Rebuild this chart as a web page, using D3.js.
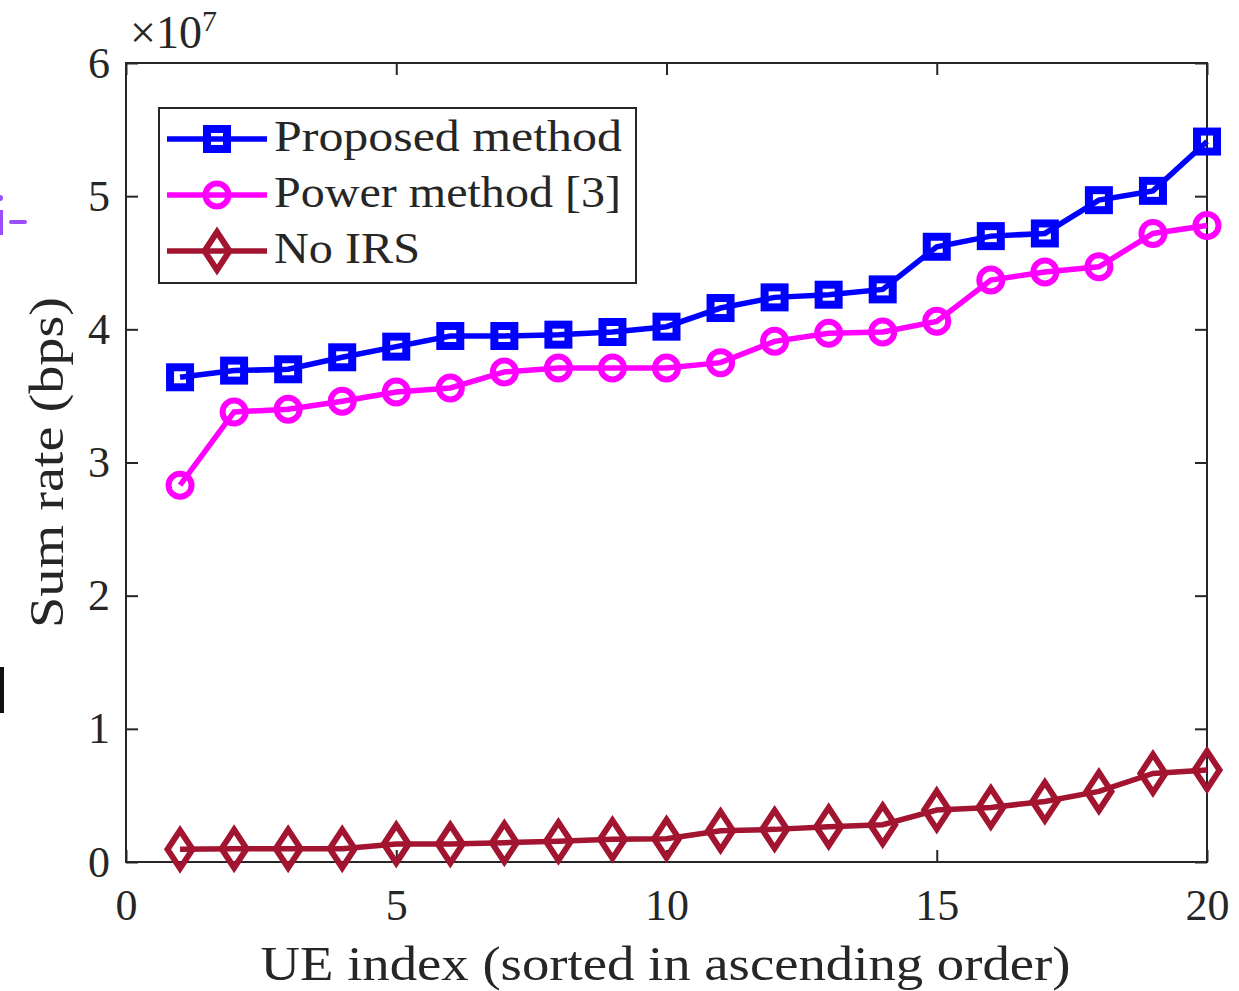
<!DOCTYPE html>
<html>
<head>
<meta charset="utf-8">
<script src="https://cdnjs.cloudflare.com/ajax/libs/d3/7.8.5/d3.min.js"></script>
<style>
    body { margin: 0; background: #fff; }
    svg { display: block; font-family: "Liberation Serif", serif; }
    .axis line { stroke: #262626; stroke-width: 2; }
    .axis text { fill: #262626; font-size: 44px; font-family: "Liberation Serif", serif; }
    .label { fill: #262626; font-family: "Liberation Serif", serif; }
</style>
</head>
<body>
<div id="chart"></div>
<script>

// data (rates in bps)
const ueIndex = [1, 2, 3, 4, 5, 6, 7, 8, 9, 10, 11, 12, 13, 14, 15, 16, 17, 18, 19, 20];
const proposedRate = [3.64e7, 3.69e7, 3.70e7, 3.79e7, 3.87e7, 3.95e7, 3.95e7, 3.96e7, 3.98e7, 4.02e7,
    4.16e7, 4.24e7, 4.26e7, 4.30e7, 4.62e7, 4.70e7, 4.72e7, 4.97e7, 5.04e7, 5.41e7];
const powerRate = [2.83e7, 3.38e7, 3.40e7, 3.46e7, 3.53e7, 3.56e7, 3.68e7, 3.71e7, 3.71e7, 3.71e7,
    3.75e7, 3.91e7, 3.97e7, 3.98e7, 4.06e7, 4.37e7, 4.43e7, 4.47e7, 4.72e7, 4.78e7];
const noIrsRate = [0.095e7, 0.10e7, 0.10e7, 0.10e7, 0.135e7, 0.135e7, 0.145e7, 0.155e7, 0.17e7, 0.175e7,
    0.235e7, 0.245e7, 0.265e7, 0.28e7, 0.39e7, 0.41e7, 0.455e7, 0.53e7, 0.665e7, 0.69e7];

const seriesNames = ["Proposed method", "Power method [3]", "No IRS"];
const seriesColors = ["#0000ff", "#ff00ff", "#a2142f"];
const seriesMarkers = ["square", "circle", "diamond"];

const xTicks = [0, 5, 10, 15, 20];
const yTicks = [0, 1e7, 2e7, 3e7, 4e7, 5e7, 6e7];


class RateChart {

    constructor(parentElement) {
        this.parentElement = parentElement;
        this.series = [proposedRate, powerRate, noIrsRate].map((vals, i) => ({
            name: seriesNames[i],
            color: seriesColors[i],
            marker: seriesMarkers[i],
            values: vals.map((v, j) => ({x: ueIndex[j], y: v}))
        }));
        this.initVis();
    }

    initVis() {
        let vis = this;

        vis.margin = {top: 63, right: 32, bottom: 129, left: 126};
        vis.width = 1239 - vis.margin.left - vis.margin.right;
        vis.height = 991 - vis.margin.top - vis.margin.bottom;

        vis.root = d3.select("#" + vis.parentElement).append("svg")
            .attr("width", 1239)
            .attr("height", 991);

        vis.svg = vis.root.append("g")
            .attr("transform", "translate(" + vis.margin.left + "," + vis.margin.top + ")");

        vis.x = d3.scaleLinear().domain([0, 20]).range([0, vis.width]);
        vis.y = d3.scaleLinear().domain([0, 6e7]).range([vis.height, 0]);

        vis.xAxis = d3.axisBottom(vis.x).tickValues(xTicks)
            .tickSizeInner(-12).tickSizeOuter(0).tickPadding(27);
        vis.yAxis = d3.axisLeft(vis.y).tickValues(yTicks)
            .tickFormat(d => d / 1e7)
            .tickSizeInner(-12).tickSizeOuter(0).tickPadding(16);
        vis.xAxisTop = d3.axisTop(vis.x).tickValues(xTicks)
            .tickSizeInner(-12).tickSizeOuter(0).tickFormat("");
        vis.yAxisRight = d3.axisRight(vis.y).tickValues(yTicks)
            .tickSizeInner(-12).tickSizeOuter(0).tickFormat("");

        vis.svg.append("g").attr("class", "axis x-axis")
            .attr("transform", "translate(0," + vis.height + ")").call(vis.xAxis);
        vis.svg.append("g").attr("class", "axis y-axis").call(vis.yAxis);
        vis.svg.append("g").attr("class", "axis").call(vis.xAxisTop);
        vis.svg.append("g").attr("class", "axis")
            .attr("transform", "translate(" + vis.width + ",0)").call(vis.yAxisRight);
        vis.svg.selectAll(".axis .domain").remove();

        // box
        vis.svg.append("rect")
            .attr("width", vis.width)
            .attr("height", vis.height)
            .attr("fill", "none")
            .attr("stroke", "#262626")
            .attr("stroke-width", 2);

        // exponent
        let expo = vis.svg.append("text").attr("class", "label")
            .attr("x", 4).attr("y", -15)
            .attr("font-size", 46)
            .text("\u00d710");
        expo.append("tspan").attr("font-size", 30).attr("dy", -17).text("7");

        // axis labels
        vis.svg.append("text").attr("class", "label")
            .attr("x", vis.width / 2 - 1).attr("y", vis.height + 118)
            .attr("text-anchor", "middle")
            .attr("font-size", 48)
            .attr("textLength", 810).attr("lengthAdjust", "spacingAndGlyphs")
            .text("UE index (sorted in ascending order)");

        vis.svg.append("text").attr("class", "label")
            .attr("transform", "translate(-63," + (vis.height / 2) + ") rotate(-90)")
            .attr("text-anchor", "middle")
            .attr("font-size", 48)
            .attr("textLength", 331).attr("lengthAdjust", "spacingAndGlyphs")
            .text("Sum rate (bps)");

        vis.line = d3.line().x(d => vis.x(d.x)).y(d => vis.y(d.y));

        vis.updateVis();
    }

    drawMarker(sel, marker, color) {
        if (marker === "square") {
            sel.append("rect")
                .attr("x", -10).attr("y", -10).attr("width", 20).attr("height", 20)
                .attr("fill", "none").attr("stroke", color).attr("stroke-width", 8);
        } else if (marker === "circle") {
            sel.append("circle")
                .attr("r", 11.5)
                .attr("fill", "none").attr("stroke", color).attr("stroke-width", 6);
        } else {
            sel.append("path")
                .attr("d", "M0,-19L12.5,0L0,19L-12.5,0Z")
                .attr("fill", "none").attr("stroke", color).attr("stroke-width", 6)
                .attr("stroke-linejoin", "miter");
        }
    }

    updateVis() {
        let vis = this;

        // lines + markers, last series drawn first
        vis.series.slice().reverse().forEach(s => {
            let g = vis.svg.append("g").attr("class", "series");
            g.append("path")
                .datum(s.values)
                .attr("d", vis.line)
                .attr("fill", "none")
                .attr("stroke", s.color)
                .attr("stroke-width", 5.5);
            g.selectAll(".marker")
                .data(s.values)
                .enter().append("g")
                .attr("class", "marker")
                .attr("transform", d => "translate(" + vis.x(d.x) + "," + vis.y(d.y) + ")")
                .each(function () { vis.drawMarker(d3.select(this), s.marker, s.color); });
        });

        // legend
        let legend = vis.root.append("g").attr("class", "legend");
        legend.append("rect")
            .attr("x", 159).attr("y", 108).attr("width", 477).attr("height", 175)
            .attr("fill", "#fff").attr("stroke", "#262626").attr("stroke-width", 2);

        let textWidths = [348, 347, 146];
        vis.series.forEach((s, i) => {
            let ly = 139 + i * 56;
            let item = legend.append("g");
            item.append("line")
                .attr("x1", 167).attr("x2", 267).attr("y1", ly).attr("y2", ly)
                .attr("stroke", s.color).attr("stroke-width", 5.5);
            vis.drawMarker(item.append("g").attr("transform", "translate(217," + ly + ")"), s.marker, s.color);
            item.append("text").attr("class", "label")
                .attr("x", 274).attr("y", ly + 12)
                .attr("font-size", 44)
                .attr("textLength", textWidths[i]).attr("lengthAdjust", "spacingAndGlyphs")
                .text(s.name);
        });

        // cropped fragments at the left edge of the page
        vis.root.append("circle").attr("cx", 0).attr("cy", 198).attr("r", 3).attr("fill", "#9b4dff");
        vis.root.append("rect").attr("x", 0).attr("y", 210).attr("width", 3).attr("height", 25).attr("fill", "#9b4dff");
        vis.root.append("rect").attr("x", 9).attr("y", 220).attr("width", 18).attr("height", 4).attr("rx", 2).attr("fill", "#9b4dff");
        vis.root.append("rect").attr("x", 0).attr("y", 667).attr("width", 4).attr("height", 46).attr("fill", "#111");
    }
}

new RateChart("chart");

</script>
</body>
</html>
